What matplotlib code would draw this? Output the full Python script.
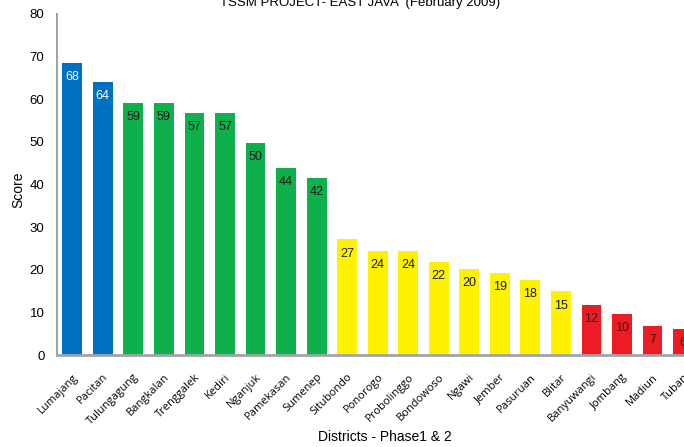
import numpy as np
import matplotlib.pyplot as plt

districts = ['Lumajang', 'Pacitan', 'Tulungagung', 'Bangkalan', 'Trenggalek', 'Kediri',
             'Nganjuk', 'Pamekasan', 'Sumenep', 'Situbondo', 'Ponorogo', 'Probolinggo',
             'Bondowoso', 'Ngawi', 'Jember', 'Pasuruan', 'Blitar', 'Banyuwangi',
             'Jombang', 'Madiun', 'Tuban']
scores = [68.6, 64.1, 59.2, 59.2, 56.8, 56.8, 49.8, 43.9, 41.6, 27.1, 24.3, 24.3,
          21.9, 20.1, 19.2, 17.7, 14.9, 11.8, 9.7, 6.9, 6.0]
labels = [68, 64, 59, 59, 57, 57, 50, 44, 42, 27, 24, 24, 22, 20, 19, 18, 15, 12, 10, 7, 6]
groups = ['blue'] * 2 + ['green'] * 7 + ['yellow'] * 8 + ['red'] * 4

palette = {'blue': '#0070C0', 'green': '#0DB04B', 'yellow': '#FFF200', 'red': '#ED1C24'}
text_col = {'blue': 'white', 'green': '#1a1a1a', 'yellow': '#1a1a1a', 'red': '#3a1a1a'}

fig = plt.figure(figsize=(6.84, 4.47), dpi=100)
ax = fig.add_axes([57 / 684, 92 / 447, 627 / 684, 341 / 447])

x = np.arange(len(districts))
bars = ax.bar(x, scores, width=0.65, color=[palette[g] for g in groups])

for b, lab, g in zip(bars, labels, groups):
    ax.text(b.get_x() + b.get_width() / 2, b.get_height() - 3.3, str(lab),
            ha='center', va='center', fontsize=9, color=text_col[g],
            family='Liberation Sans')

ax.set_xlim(-0.5, 20.03)
ax.set_ylim(0, 80)
ax.set_yticks(range(0, 81, 10))
ax.tick_params(axis='y', length=0, labelsize=9.5, pad=9)
ax.tick_params(axis='x', length=0, pad=12)
ax.set_xticks(x)
ax.set_xticklabels(districts, rotation=45, ha='right', rotation_mode='anchor',
                   fontsize=8, family='Open Sans')
for t in ax.get_yticklabels():
    t.set_family('Liberation Sans')

for s in ['top', 'right']:
    ax.spines[s].set_visible(False)
ax.spines['left'].set_color('#A0A4A8')
ax.spines['bottom'].set_color('#A0A4A8')
ax.spines['left'].set_linewidth(1.5)
ax.spines['bottom'].set_linewidth(2)

fig.text(18 / 684, 1 - 190 / 447, 'Score', rotation=90, ha='center', va='center',
         fontsize=10, family='Liberation Sans')
fig.text(385 / 684, 1 - 437 / 447, 'Districts - Phase1 & 2', ha='center', va='center',
         fontsize=10, family='Liberation Sans')
fig.text(360 / 684, 1 - 3 / 447, 'TSSM PROJECT- EAST JAVA  (February 2009)', ha='center',
         va='center', fontsize=9.5, family='Liberation Sans')

fig.savefig('out.png', dpi=100)
